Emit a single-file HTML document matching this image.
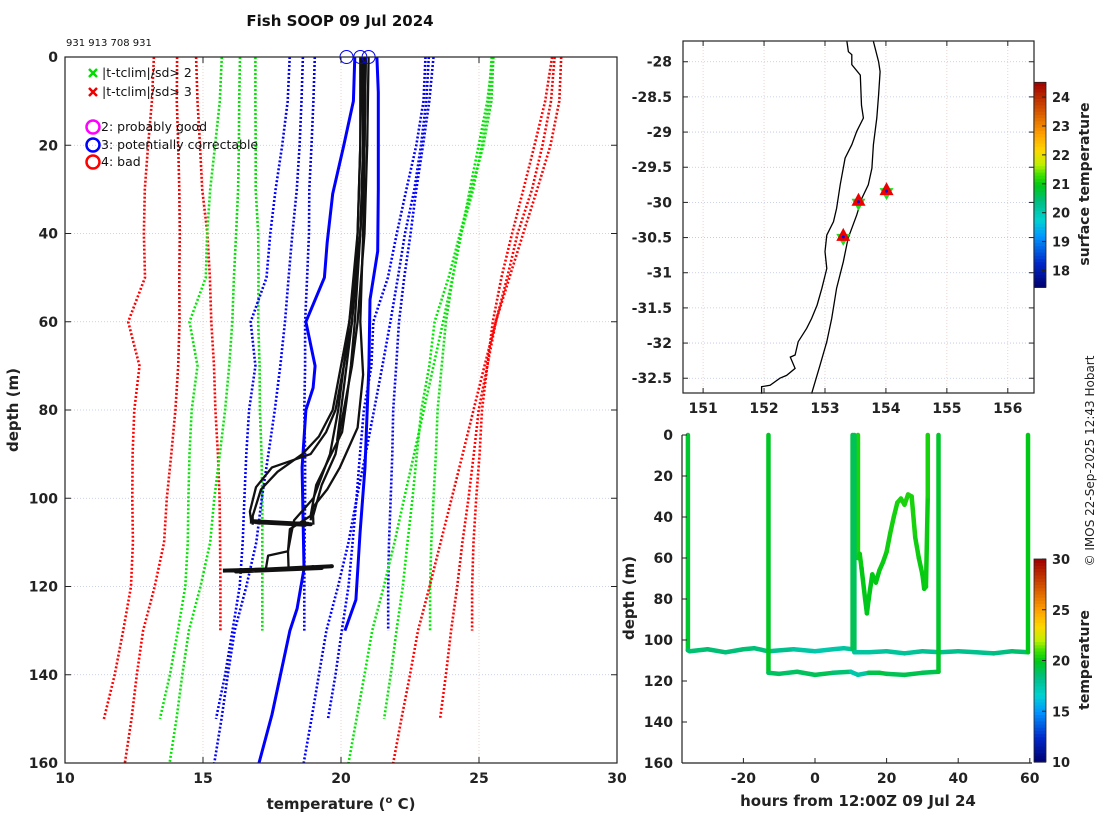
<!DOCTYPE html>
<html><head><meta charset="utf-8"><style>
html,body{margin:0;padding:0;background:#fff;}
svg{display:block;font-family:"DejaVu Sans","Liberation Sans",sans-serif;}
.tk{font-size:14px;font-weight:bold;fill:#222;}
</style></head><body>
<svg id="chart" width="1100" height="820" viewBox="0 0 1100 820" xmlns="http://www.w3.org/2000/svg">
<text x="340" y="26" text-anchor="middle" font-size="15" font-weight="bold" fill="#111">Fish SOOP 09 Jul 2024</text>
<text x="66" y="46" font-size="10" fill="#111">931 913 708 931</text>
<g id="main"></g>
<g id="map"></g>
<g id="tser"></g>
<text transform="translate(1094,461) rotate(-90)" text-anchor="middle" font-size="12" fill="#222">© IMOS 22-Sep-2025 12:43 Hobart</text>
</svg>
<script>
// ---------- Climatology data (mean, sd per depth) ----------
const climDepthA = [0,10,20,30,40,50,60,70,80,90,100,110,120,130];
const climMeanA = [21.2,21.1,20.95,20.79,20.68,20.53,20.4,20.35,20.28,20.28,20.25,20.21,20.19,20.19];
const climSdA = [2.15,2.1,2.02,1.94,1.84,1.76,1.7,1.65,1.61,1.58,1.55,1.53,1.52,1.52];
const climDepthB = [0,10,20,30,40,50,60,70,80,90,100,110,120,130,140,150];
const climMeanB = [20.6,20.53,20.3,20.0,19.73,19.5,18.95,19.0,18.75,18.63,18.53,18.43,18.3,18.05,17.8,17.5];
const climSdB = [2.46,2.46,2.43,2.37,2.29,2.2,2.22,2.1,2.08,2.06,2.03,1.99,1.97,1.98,2.0,2.03];
const climDepthC = [0,10,20,30,40,50,60,70,80,90,100,110,120,130,140,150,160];
const climMeanC = [20.9,20.83,20.7,20.53,20.28,20.08,19.88,19.65,19.4,19.13,18.85,18.6,18.23,17.81,17.55,17.3,17.03];
const climSdC = [2.28,2.26,2.2,2.13,2.04,1.98,1.91,1.85,1.8,1.76,1.72,1.67,1.66,1.66,1.65,1.63,1.62];
// ---------- Flagged (blue) profiles ----------
const blue1Depth = [0,10,20,31,42,50,60,70,75,80,93,116,125,130,149,160];
const blue1Temp = [20.5,20.45,20.1,19.7,19.5,19.4,18.73,19.06,18.99,18.73,18.59,18.66,18.41,18.15,17.5,17.03];
const blue2Depth = [0,8,30,44,55,70,93,108,123,130];
const blue2Temp = [21.3,21.35,21.35,21.33,21.05,21.01,20.87,20.69,20.54,20.14];
// ---------- Black profiles ----------
const p1Depth = [0,20,40,60,70,80,85,90,93,97.5,103,105.5];
const p1Temp = [20.8,20.8,20.7,20.4,20.1,19.8,19.46,18.9,17.5,16.92,16.7,16.75];
const p2Depth = [0,20,40,60,70,80,86,90,94,98,104,106];
const p2Temp = [20.9,20.85,20.7,20.3,20.0,19.7,19.2,18.6,17.7,17.1,16.8,16.8];
const p3Depth = [0,20,40,60,72,84,93,98,102,105];
const p3Temp = [20.85,20.85,20.8,20.7,20.8,20.6,19.96,19.5,18.99,18.9];
const p4Depth = [0,20,40,60,70,78,85,91,97,104,107,112,116];
const p4Temp = [20.9,20.85,20.7,20.5,20.36,20.2,20.04,19.57,19.1,18.9,18.15,18.08,18.1];
const p5Depth = [0,20,40,60,70,80,90,100,105,108,112,113,116];
const p5Temp = [20.7,20.7,20.6,20.3,20.1,19.9,19.6,19.0,18.3,18.2,18.08,17.36,17.28];
const p6Depth = [0,20,40,60,75,87];
const p6Temp = [20.75,20.7,20.6,20.4,20.1,19.86];
const p7Depth = [0,20,40,60,70,80,90,97,104,106];
const p7Temp = [21.0,20.95,20.85,20.6,20.4,20.1,19.8,19.3,18.99,19.0];
const bot105Depth = [105.3,105.9,105.2,106.0,105.4,105.8,105.5];
const bot105Temp = [16.7,18.9,16.8,18.7,16.9,18.8,17.0];
const bot116Depth = [116.4,115.8,116.6,115.4,116.3,115.6,116.2];
const bot116Temp = [15.72,19.3,16.2,19.67,16.8,19.0,17.2];
const flagTemps = [20.2,20.7,21.0];
const xTicks = [10,15,20,25,30];
const yTicks = [0,20,40,60,80,100,120,140,160];

// ---------- Map data ----------
const coastLon = [153.36,153.385,153.44,153.44,153.58,153.60,153.63,153.52,153.44,153.33,153.25,153.19,153.14,153.03,153.00,153.03,152.95,152.87,152.78,152.70,152.56,152.51,152.43,152.51,152.37,152.26,152.10,151.96,151.96];
const coastLat = [-27.71,-27.857,-27.90,-28.04,-28.19,-28.62,-28.80,-28.99,-29.18,-29.37,-29.75,-30.085,-30.275,-30.465,-30.70,-30.94,-31.22,-31.46,-31.65,-31.79,-31.98,-32.17,-32.20,-32.36,-32.46,-32.50,-32.60,-32.62,-32.72];
const shelfLon = [153.795,153.88,153.905,153.88,153.85,153.795,153.77,153.71,153.605,153.52,153.38,153.30,153.19,153.11,153.03,152.92,152.78];
const shelfLat = [-27.71,-27.999,-28.14,-28.47,-28.80,-29.18,-29.515,-29.75,-29.94,-30.18,-30.51,-30.845,-31.22,-31.65,-31.98,-32.31,-32.72];
const stationLon = [153.55,154.01,153.30];
const stationLat = [-29.99,-29.84,-30.49];
const lonTicks = [151,152,153,154,155,156];
const latTicks = [-28,-28.5,-29,-29.5,-30,-30.5,-31,-31.5,-32,-32.5];
const sstTicks = [18,19,20,21,22,23,24];

// ---------- Time series data ----------
const tr1Hours = [-35.5,-35.5,-35,-30,-25,-20,-17,-13,-6,0,5,8,10.5,10.5];
const tr1Depth = [0,105,105.5,104.5,106,104.5,104,105.5,104.5,105.5,104.5,104,104.5,0];
const tr1Temp = [20.4,18.8,18.6,18.7,18.5,18.6,18.7,18.3,18.0,17.3,17.5,17.6,17.9,20.6];
const tr2Hours = [12,12,12.5,13,14,14.5,15,16,17,18,19,20,21,22,23,24,25,26,27,28,29,30,30.5,31,31.5,31.5];
const tr2Depth = [0,60,58,65,80,87,80,68,72,66,62,57,48,40,33,31,34,29,30,50,60,68,75,74,30,0];
const tr2Temp = [20.6,20.3,20.2,20.1,19.9,19.8,19.9,20.0,20.0,20.1,20.1,20.2,20.3,20.3,20.4,20.4,20.4,20.5,20.5,20.3,20.2,20.1,20.0,20.0,20.3,20.5];
const tr3Hours = [11,11,15,20,25,30,35,40,45,50,55,59.5,59.5];
const tr3Depth = [0,106,106,105.5,106.5,105.5,106,105.5,106,106.5,105.5,106,0];
const tr3Temp = [20.2,17.8,17.7,17.8,17.9,18.0,18.1,18.2,18.1,18.3,18.5,18.9,21.0];
const tr4Hours = [-13,-13,-10,-5,0,5,10,12,15,18,20,25,30,34.5,34.5];
const tr4Depth = [0,116,116.5,115.5,117,116,115.5,117,116,116,116.5,117,116,115.5,0];
const tr4Temp = [20.5,19.0,18.8,18.9,19.0,19.1,18.2,16.8,18.6,19.8,19.0,19.1,19.2,19.0,20.3];
const hourTicks = [-20,0,20,40,60];
const tsDepthTicks = [0,20,40,60,80,100,120,140,160];
const tcbTicks = [10,15,20,25,30];

const NS = 'http://www.w3.org/2000/svg';
function mk(parent, tag, attrs){ const e=document.createElementNS(NS,tag); for(const k in attrs) e.setAttribute(k,attrs[k]); parent.appendChild(e); return e; }
const cmapStops = [[0,0,0,110],[0.12,0,40,200],[0.25,0,150,255],[0.33,0,210,210],[0.42,0,190,130],[0.5,0,200,20],[0.55,60,225,0],[0.6,190,240,0],[0.67,255,215,0],[0.75,255,160,0],[0.87,210,80,0],[1,160,0,0]];
function jet(v,lo,hi){
  let t=Math.max(0,Math.min(1,(v-lo)/(hi-lo)));
  for(let i=0;i<cmapStops.length-1;i++){
    const a=cmapStops[i], b=cmapStops[i+1];
    if(t<=b[0]){ const f=(t-a[0])/(b[0]-a[0]);
      return 'rgb('+Math.round(a[1]+f*(b[1]-a[1]))+','+Math.round(a[2]+f*(b[2]-a[2]))+','+Math.round(a[3]+f*(b[3]-a[3]))+')'; }
  }
  return 'rgb(160,0,0)';
}

// ================= MAIN PANEL =================
const main = document.getElementById('main');
const mL=65,mR=617,mT=57,mB=763;
const xT = t => mL + (t-10)/20*(mR-mL);
const yD = d => mT + d/160*(mB-mT);
xTicks.forEach(t=>{ if(t>10&&t<30){ const g=mk(main,'line',{x1:xT(t),x2:xT(t),y1:mT,y2:mB,stroke:'#e6c9bf','stroke-width':0.8,'stroke-dasharray':'1,2'});
  }});
yTicks.forEach(d=>{ if(d>0&&d<160){ const g=mk(main,'line',{x1:mL,x2:mR,y1:yD(d),y2:yD(d),stroke:'#b9c4e6','stroke-width':0.8,'stroke-dasharray':'1,2'});
  }});
function pline(parent, xs, ys, attrs, name){
  const pts = xs.map((x,i)=>x.toFixed(1)+','+ys[i].toFixed(1)).join(' ');
  const e = mk(parent,'polyline',Object.assign({points:pts,fill:'none'},attrs));
  
  
  return e;
}
const climSets = [[climDepthA,climMeanA,climSdA,'a'],[climDepthB,climMeanB,climSdB,'b'],[climDepthC,climMeanC,climSdC,'c']];
const kCol = {1:'#0000ff',2:'#00e600',3:'#ff0000'};
climSets.forEach(([dep,mean,sd,id])=>{
  [-3,-2,-1,1,2,3].forEach(k=>{
    const xs = mean.map((m,i)=>xT(m+k*sd[i]));
    const ys = dep.map(yD);
    pline(main, xs, ys, {stroke:kCol[Math.abs(k)],'stroke-width':2.6,'stroke-dasharray':'2,2'}, 'climatology-'+id+'-sd'+k);
  });
});
pline(main, blue1Temp.map(xT), blue1Depth.map(yD), {stroke:'#0000ff','stroke-width':3,'stroke-linejoin':'round'}, 'flagged-profile-1');
pline(main, blue2Temp.map(xT), blue2Depth.map(yD), {stroke:'#0000ff','stroke-width':3,'stroke-linejoin':'round'}, 'flagged-profile-2');
const blackP = [[p1Temp,p1Depth],[p2Temp,p2Depth],[p3Temp,p3Depth],[p4Temp,p4Depth],[p5Temp,p5Depth],[p6Temp,p6Depth],[p7Temp,p7Depth]];
blackP.forEach(([t,d],i)=>pline(main, t.map(xT), d.map(yD), {stroke:'#111','stroke-width':2.3,'stroke-linejoin':'round'}, 'profile-'+(i+1)));
pline(main, bot105Temp.map(xT), bot105Depth.map(yD), {stroke:'#111','stroke-width':4,'stroke-linejoin':'round'}, 'bottom-trace-105m');
pline(main, bot116Temp.map(xT), bot116Depth.map(yD), {stroke:'#111','stroke-width':4,'stroke-linejoin':'round'}, 'bottom-trace-116m');
flagTemps.forEach(t=>{ const c=mk(main,'circle',{cx:xT(t),cy:yD(0),r:6.5,fill:'none',stroke:'#0000ff','stroke-width':1});
  });
const fr=mk(main,'rect',{x:mL,y:mT,width:mR-mL,height:mB-mT,fill:'none',stroke:'#222','stroke-width':1.2});
 
xTicks.forEach(t=>{
  mk(main,'line',{x1:xT(t),x2:xT(t),y1:mB,y2:mB-6,stroke:'#222'});
  mk(main,'line',{x1:xT(t),x2:xT(t),y1:mT,y2:mT+6,stroke:'#222'});
  const e=mk(main,'text',{x:xT(t),y:mB+20,'text-anchor':'middle',class:'tk'}); e.textContent=t;
   
});
yTicks.forEach(d=>{
  mk(main,'line',{x1:mL,x2:mL+6,y1:yD(d),y2:yD(d),stroke:'#222'});
  mk(main,'line',{x1:mR,x2:mR-6,y1:yD(d),y2:yD(d),stroke:'#222'});
  const e=mk(main,'text',{x:mL-7,y:yD(d)+5,'text-anchor':'end',class:'tk'}); e.textContent=d;
   
});
{
  const xl=mk(main,'text',{x:341,y:809,'text-anchor':'middle','font-size':15,'font-weight':'bold',fill:'#222'});
  xl.innerHTML='temperature (<tspan font-size="10" dy="-6">o</tspan><tspan dy="6"> C)</tspan>';
   
  const yl=mk(main,'text',{transform:'translate(18,410) rotate(-90)','text-anchor':'middle','font-size':15,'font-weight':'bold',fill:'#222'});
  yl.textContent='depth (m)';
   
}
{
  const lg=mk(main,'g',{});
   
  const xs=[['#00dd00',73,'|t-tclim|/sd> 2'],['#ee0000',92,'|t-tclim|/sd> 3']];
  xs.forEach(([c,y,txt])=>{
    mk(lg,'path',{d:`M89 ${y-4}l8 8M97 ${y-4}l-8 8`,stroke:c,'stroke-width':2.5});
    const t=mk(lg,'text',{x:102,y:y+4,'font-size':12.5,fill:'#111'}); t.textContent=txt;
     
  });
  const cs=[['#ff00ff',127,'2: probably good'],['#0000ff',145,'3: potentially correctable'],['#ff0000',162,'4: bad']];
  cs.forEach(([c,y,txt])=>{
    mk(lg,'circle',{cx:93,cy:y,r:6.5,fill:'none',stroke:c,'stroke-width':2.5});
    const t=mk(lg,'text',{x:101,y:y+4,'font-size':12.5,fill:'#111'}); t.textContent=txt;
     
  });
}

// ================= MAP PANEL =================
const map=document.getElementById('map');
const gL=683,gR=1034,gT=41,gB=393;
const lon0=150.67,lon1=156.43,lat0=-27.705,lat1=-32.71;
const xLon = v => gL + (v-lon0)/(lon1-lon0)*(gR-gL);
const yLat = v => gT + (v-lat0)/(lat1-lat0)*(gB-gT);
lonTicks.forEach(v=>{ const g=mk(map,'line',{x1:xLon(v),x2:xLon(v),y1:gT,y2:gB,stroke:'#e6c9bf','stroke-width':0.8,'stroke-dasharray':'1,2'});
  });
latTicks.forEach(v=>{ const g=mk(map,'line',{x1:gL,x2:gR,y1:yLat(v),y2:yLat(v),stroke:'#b9c4e6','stroke-width':0.8,'stroke-dasharray':'1,2'});
  });
pline(map, coastLon.map(xLon), coastLat.map(yLat), {stroke:'#000','stroke-width':1.3}, 'coastline');
pline(map, shelfLon.map(xLon), shelfLat.map(yLat), {stroke:'#000','stroke-width':1.3}, 'isobath-line');
stationLon.forEach((lo,i)=>{
  const cx=xLon(lo), cy=yLat(stationLat[i]);
  const g=mk(map,'g',{});
   
  mk(g,'polygon',{points:`${cx-7},${cy-3} ${cx+7},${cy-3} ${cx},${cy+9}`,fill:'#22dd22'});
  mk(g,'polygon',{points:`${cx-7},${cy+4} ${cx+7},${cy+4} ${cx},${cy-9}`,fill:'#ee0000'});
  mk(g,'circle',{cx:cx,cy:cy,r:1.5,fill:'#0000ee'});
});
{
  const fr=mk(map,'rect',{x:gL,y:gT,width:gR-gL,height:gB-gT,fill:'none',stroke:'#222','stroke-width':1.2});
   
}
lonTicks.forEach(v=>{
  mk(map,'line',{x1:xLon(v),x2:xLon(v),y1:gB,y2:gB-5,stroke:'#222'});
  mk(map,'line',{x1:xLon(v),x2:xLon(v),y1:gT,y2:gT+5,stroke:'#222'});
  const e=mk(map,'text',{x:xLon(v),y:gB+20,'text-anchor':'middle',class:'tk'}); e.textContent=v;
   
});
latTicks.forEach(v=>{
  mk(map,'line',{x1:gL,x2:gL+5,y1:yLat(v),y2:yLat(v),stroke:'#222'});
  mk(map,'line',{x1:gR,x2:gR-5,y1:yLat(v),y2:yLat(v),stroke:'#222'});
  const e=mk(map,'text',{x:gL-11,y:yLat(v)+5,'text-anchor':'end',class:'tk'}); e.textContent=v;
   
});
function colorbar(parent,x,y0,y1,lo,hi,ticks,name,label,labelY){
  const yv=v=>y1-(v-lo)/(hi-lo)*(y1-y0);
  const g=mk(parent,'g',{});
   
  const n=64;
  for(let i=0;i<n;i++){ const v=lo+(i+0.5)/n*(hi-lo);
    mk(g,'rect',{x:x,y:yv(lo+(i+1)/n*(hi-lo)),width:12,height:(y1-y0)/n+0.6,fill:jet(v,lo,hi)}); }
  mk(g,'rect',{x:x,y:y0,width:12,height:y1-y0,fill:'none',stroke:'#222','stroke-width':0.8});
  ticks.forEach(t=>{ mk(g,'line',{x1:x+12,x2:x+8,y1:yv(t),y2:yv(t),stroke:'#222'});
    const e=mk(g,'text',{x:x+18,y:yv(t)+5,'font-size':13,'font-weight':'bold',fill:'#222'}); e.textContent=t;
      });
  const l=mk(g,'text',{transform:`translate(${x+55},${labelY}) rotate(-90)`,'text-anchor':'middle','font-size':14,'font-weight':'bold',fill:'#222'});
  l.textContent=label;
   
}
colorbar(map,1034,82.3,287.3,17.42,24.51,sstTicks,'sst-colorbar','surface temperature',184);

// ================= TIME SERIES PANEL =================
const ts=document.getElementById('tser');
const tL=682,tB=763,tT=435;
const xH = h => 815 + h*3.58;
const yTD = d => tT + d/160*(tB-tT);
[[tr1Hours,tr1Depth,tr1Temp],[tr2Hours,tr2Depth,tr2Temp],[tr3Hours,tr3Depth,tr3Temp],[tr4Hours,tr4Depth,tr4Temp]].forEach(([h,d,t],k)=>{
  const g=mk(ts,'g',{});
   
  for(let i=0;i<h.length-1;i++){
    mk(g,'line',{x1:xH(h[i]),y1:yTD(d[i]),x2:xH(h[i+1]),y2:yTD(d[i+1]),stroke:jet((t[i]+t[i+1])/2,10,30),'stroke-width':4.5,'stroke-linecap':'round'});
  }
});
mk(ts,'line',{x1:tL,x2:tL,y1:tT,y2:tB,stroke:'#222','stroke-width':1.2});
mk(ts,'line',{x1:tL,x2:1032,y1:tB,y2:tB,stroke:'#222','stroke-width':1.2});
hourTicks.forEach(h=>{ mk(ts,'line',{x1:xH(h),x2:xH(h),y1:tB,y2:tB-5,stroke:'#222'});
  const e=mk(ts,'text',{x:xH(h),y:tB+20,'text-anchor':'middle',class:'tk'}); e.textContent=h;
    });
tsDepthTicks.forEach(d=>{ mk(ts,'line',{x1:tL,x2:tL+5,y1:yTD(d),y2:yTD(d),stroke:'#222'});
  const e=mk(ts,'text',{x:tL-9,y:yTD(d)+5,'text-anchor':'end',class:'tk'}); e.textContent=d;
    });
{
  const xl=mk(ts,'text',{x:858,y:806,'text-anchor':'middle','font-size':15,'font-weight':'bold',fill:'#222'});
  xl.textContent='hours from 12:00Z 09 Jul 24';
   
  const yl=mk(ts,'text',{transform:'translate(634,598) rotate(-90)','text-anchor':'middle','font-size':15,'font-weight':'bold',fill:'#222'});
  yl.textContent='depth (m)';
   
}
colorbar(ts,1034,559,762,10,30,tcbTicks,'temperature-colorbar','temperature',660);
</script>
</body></html>
